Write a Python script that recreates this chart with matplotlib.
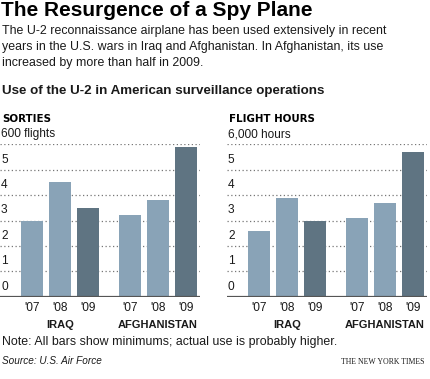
import matplotlib
matplotlib.use("Agg")
import matplotlib.pyplot as plt
from matplotlib.transforms import blended_transform_factory

years = ["'07", "'08", "'09", "'07", "'08", "'09"]
groups = ["IRAQ", "AFGHANISTAN"]
sorties = [300, 450, 350, 320, 380, 588]          # flights
flight_hours = [2590, 3880, 3000, 3080, 3690, 5680]  # hours
sorties_ticks = ["0", "1", "2", "3", "4", "5", "600 flights"]
hours_ticks = ["0", "1", "2", "3", "4", "5", "6,000 hours"]

W, H = 430, 379
fig = plt.figure(figsize=(W / 100, H / 100), dpi=100)
fig.patch.set_facecolor("white")

FONT = "Liberation Sans"
LIGHT = "#89a3b7"
DARK = "#5f7482"
TXT = "#1a1a1a"

def fy(px):
    return 1 - px / H

def fx(px):
    return px / W

# Header texts
fig.text(fx(1), fy(16.3), "The Resurgence of a Spy Plane", family=FONT,
         weight="bold", fontsize=15, color="black", va="baseline")
sub = ["The U-2 reconnaissance airplane has been used extensively in recent",
       "years in the U.S. wars in Iraq and Afghanistan. In Afghanistan, its use",
       "increased by more than half in 2009."]
for i, line in enumerate(sub):
    fig.text(fx(2), fy(34.3 + 15.7 * i), line, family=FONT, fontsize=8.9,
             color=TXT, va="baseline")
fig.text(fx(2), fy(94.3), "Use of the U-2 in American surveillance operations",
         family=FONT, weight="bold", fontsize=9.6, color=TXT, va="baseline")

x = [0, 1, 2, 3.5, 4.5, 5.5]
colors = [LIGHT, LIGHT, DARK, LIGHT, LIGHT, DARK]

panels = [
    (0, "SORTIES", sorties, 100, sorties_ticks),
    (227, "FLIGHT HOURS", flight_hours, 1000, hours_ticks),
]

bottom_px, top_px = 296.7, 144.3
for left_px, title, vals, unit, ticks in panels:
    ax = fig.add_axes([fx(left_px), fy(bottom_px), fx(200), (bottom_px - top_px) / H])
    scaled = [v / unit for v in vals]
    ax.bar(x, scaled, width=0.81, color=colors, zorder=3)
    ax.set_xlim(-1.15, 6.0)
    ax.set_ylim(0, 6)
    for s in ax.spines.values():
        s.set_visible(False)
    ax.set_yticks([])
    for k in range(1, 7):
        ax.axhline(k, color="#777777", lw=0.9, ls=(0, (1, 2)), zorder=1)
    ax.axhline(0, color="#555555", lw=1.6, zorder=4)
    tr = blended_transform_factory(ax.transAxes, ax.transData)
    for k, lab in enumerate(ticks):
        ax.annotate(lab, xy=(0.005, k), xycoords=tr, xytext=(0, 3),
                    textcoords="offset points", family=FONT, fontsize=8.6,
                    color=TXT, ha="left", va="bottom")
    ax.set_xticks(x)
    ax.set_xticklabels(years, family=FONT, fontsize=8.6, color=TXT)
    ax.tick_params(axis="x", length=0, pad=4)
    trg = blended_transform_factory(ax.transData, fig.transFigure)
    ax.text(1, fy(328.5), groups[0], transform=trg, family=FONT, weight="bold",
            fontsize=8, color=TXT, ha="center", va="baseline")
    ax.text(4.5, fy(328.5), groups[1], transform=trg, family=FONT, weight="bold",
            fontsize=8, color=TXT, ha="center", va="baseline")
    fig.text(fx(left_px + 2), fy(121.5), title, family="DejaVu Sans",
             weight="bold", fontsize=7.4, color="black", va="baseline")

fig.text(fx(2), fy(345), "Note: All bars show minimums; actual use is probably higher.",
         family=FONT, fontsize=8.9, color=TXT, va="baseline")
fig.text(fx(2), fy(364), "Source: U.S. Air Force", family=FONT, style="italic",
         fontsize=7.2, color=TXT, va="baseline")
fig.text(fx(424), fy(364), "THE NEW YORK TIMES", family="Liberation Serif",
         fontsize=5.6, color=TXT, va="baseline", ha="right")

fig.savefig("out.png", dpi=100, facecolor="white")
